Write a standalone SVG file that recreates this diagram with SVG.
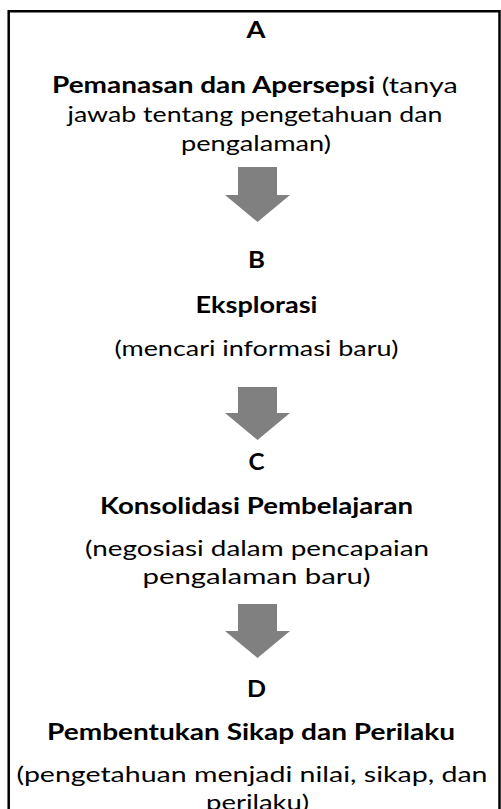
<svg xmlns="http://www.w3.org/2000/svg" width="501" height="809" viewBox="0 0 501 809">
<style>
text{font-family:Lato,"Open Sans","Liberation Sans",sans-serif;font-size:22px;fill:#000;text-anchor:middle}
.b{font-weight:bold}
.s{text-anchor:start}
.arrow{fill:#808080}
</style>
<rect width="501" height="809" fill="#fff"/>
<path d="M8.7,815 V11.3 H499.5 V815" fill="none" stroke="#000" stroke-width="2.5"/>
<g id="nodeA">
<text class="b" x="256" y="38" textLength="19" lengthAdjust="spacingAndGlyphs">A</text>
<text class="b s" x="52" y="93" textLength="323" lengthAdjust="spacingAndGlyphs">Pemanasan dan Apersepsi</text>
<text class="s" x="381.7" y="93" textLength="76" lengthAdjust="spacingAndGlyphs">(tanya</text>
<text x="255" y="122" textLength="375" lengthAdjust="spacingAndGlyphs">jawab tentang pengetahuan dan</text>
<text x="256" y="151" textLength="150" lengthAdjust="spacingAndGlyphs">pengalaman)</text>
</g>
<g id="nodeB">
<text class="b" x="256.5" y="268" textLength="17" lengthAdjust="spacingAndGlyphs">B</text>
<text class="b" x="256.5" y="313" textLength="122" lengthAdjust="spacingAndGlyphs">Eksplorasi</text>
<text x="256.5" y="356" textLength="284" lengthAdjust="spacingAndGlyphs">(mencari informasi baru)</text>
</g>
<g id="nodeC">
<text class="b" x="256.5" y="470" textLength="16" lengthAdjust="spacingAndGlyphs">C</text>
<text class="b" x="256.5" y="514" textLength="313" lengthAdjust="spacingAndGlyphs">Konsolidasi Pembelajaran</text>
<text x="257" y="556" textLength="344" lengthAdjust="spacingAndGlyphs">(negosiasi dalam pencapaian</text>
<text x="256.5" y="584" textLength="228" lengthAdjust="spacingAndGlyphs">pengalaman baru)</text>
</g>
<g id="nodeD">
<text class="b" x="256.5" y="697" textLength="19" lengthAdjust="spacingAndGlyphs">D</text>
<text class="b" x="251" y="740" textLength="408" lengthAdjust="spacingAndGlyphs">Pembentukan Sikap dan Perilaku</text>
<text x="252" y="782" textLength="471" lengthAdjust="spacingAndGlyphs">(pengetahuan menjadi nilai, sikap, dan</text>
<text x="257.5" y="810" textLength="103" lengthAdjust="spacingAndGlyphs">perilaku)</text>
</g>
<g id="connectors">
<polygon class="arrow" points="238,167 277,167 277,195 290,195 257.5,222 225,195 238,195"/>
<polygon class="arrow" points="238,387 277,387 277,413 290,413 257.5,440 225,413 238,413"/>
<polygon class="arrow" points="238,604 277,604 277,631 290,631 257.5,658 225,631 238,631"/>
</g>
</svg>
